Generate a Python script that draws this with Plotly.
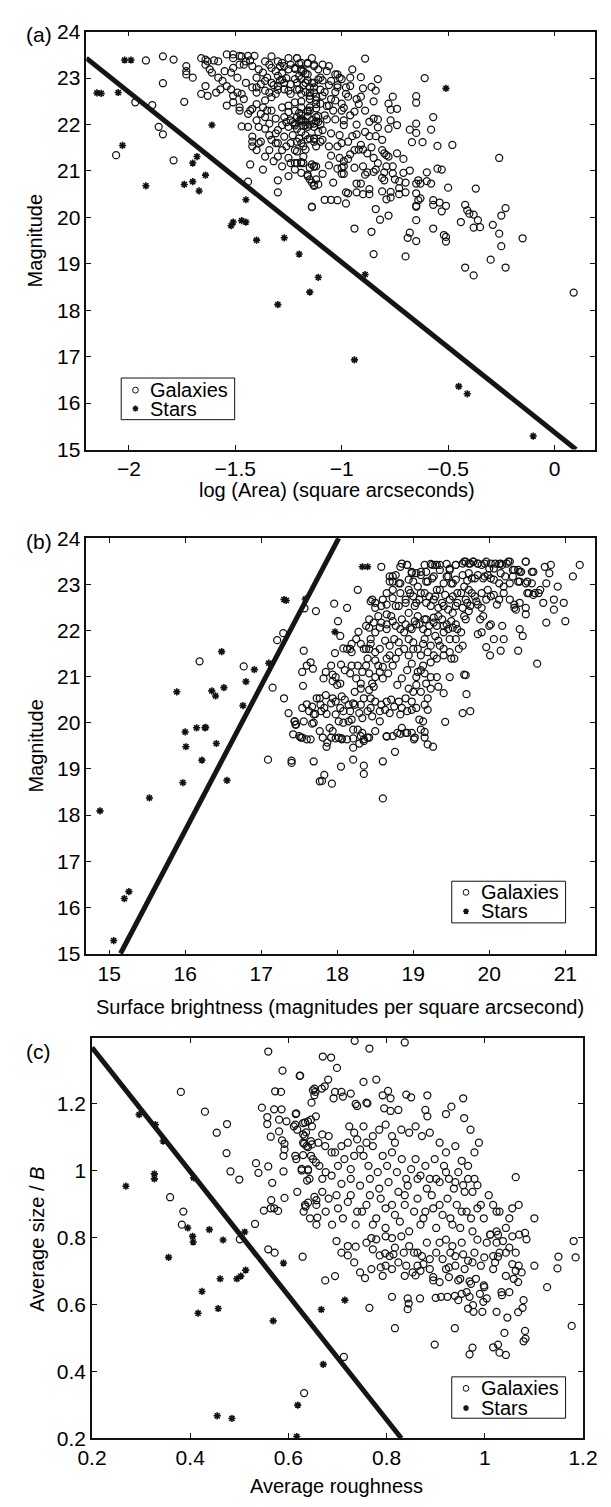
import plotly.graph_objects as go

W, H = 611, 1507
FONT = "Liberation Sans, Arial, Helvetica, sans-serif"

# ---------------- Panel (a): log(Area) vs Magnitude ----------------
gal_a = [
(-1.92,23.38),(-1.84,23.47),(-1.79,23.40),(-1.84,22.89),(-1.97,22.48),(-1.89,22.42),(-1.86,21.95),(-1.84,21.79),(-2.06,21.34),(-1.79,21.23),
(-1.74,22.49),(-1.73,23.08),(-1.73,23.15),(-1.70,23.01),(-1.73,23.26),(-1.66,23.43),(-1.64,23.40),(-1.63,23.36),(-1.60,23.38),(-1.58,23.36),
(-1.64,23.29),(-1.62,23.19),(-1.61,23.12),(-1.64,22.83),(-1.63,22.62),(-1.59,22.69),(-1.66,22.66),(-1.54,22.41),(-1.55,23.15),(-1.54,23.51),
(-1.51,23.51),(-1.48,23.48),(-1.47,23.47),(-1.44,23.48),(-1.41,23.48),(-1.43,23.38),(-1.45,23.36),(-1.48,23.29),(-1.51,23.22),(-1.52,23.12),
(-1.56,22.94),(-1.54,22.83),(-1.52,22.76),(-1.51,22.62),(-1.47,22.66),(-1.46,22.55),(-1.43,22.30),(-1.42,22.34),(-1.48,22.30),(-1.44,22.23),
(-1.44,21.95),(-1.47,21.96),(-1.42,21.74),(-1.42,21.63),(-1.42,21.53),(-1.39,21.60),(-1.38,21.63),(-1.43,21.14),(-1.44,20.77),(-1.39,21.95),
(-1.34,22.02),(-1.35,22.30),(-1.31,21.81),(-1.30,21.88),(-1.34,21.77),(-1.31,21.60),(-1.30,21.60),(-1.27,21.74),(-1.26,21.53),(-1.30,21.31),
(-1.30,20.80),(-1.30,20.54),(-1.25,21.28),(-1.24,21.17),(-1.22,21.17),(-1.21,21.17),(-1.19,21.19),(-1.22,21.03),(-1.18,21.31),(-1.17,21.46),
(-1.14,21.14),(-1.13,21.10),(-1.14,20.23),(-1.16,20.92),(-1.15,20.82),(-1.13,20.68),(-1.12,20.82),(-1.40,22.69),(-1.40,22.80),(-1.37,22.37),
(-1.36,22.52),(-1.33,22.59),(-1.31,22.66),(-1.39,23.19),(-1.37,23.12),(-1.33,23.22),(-1.31,23.15),(-1.35,23.01),(-1.36,22.94),(-1.33,22.90),
(-1.38,22.87),(-1.33,23.47),(-1.30,23.36),(-1.28,23.33),(-1.27,23.26),(-1.25,23.19),(-1.24,23.29),(-1.21,23.43),(-1.19,23.33),(-1.16,23.33),
(-1.13,23.26),(-1.24,22.87),(-1.22,22.98),(-1.21,22.90),(-1.19,22.98),(-1.27,22.76),(-1.25,22.73),(-1.19,22.66),(-1.15,22.62),(-1.13,22.69),
(-1.25,22.41),(-1.22,22.30),(-1.19,22.37),(-1.16,22.30),(-1.27,22.16),(-1.24,22.09),(-1.22,22.02),(-1.21,22.16),(-1.18,22.09),(-1.16,21.95),
(-1.13,22.02),(-1.12,22.16),(-1.25,21.95),(-1.21,21.91),(-1.19,21.84),(-1.15,21.70),(-1.13,21.70),(-1.12,21.53),(-1.19,21.60),(-1.24,21.60),
(-1.23,22.05),(-1.20,22.08),(-1.17,22.05),(-1.14,22.10),(-1.22,21.98),(-1.18,21.97),(-1.15,22.00),(-1.26,22.05),(-1.19,22.12),(-1.16,22.18),
(-1.12,22.07),(-1.10,22.00),(-1.30,23.05),(-1.29,22.95),(-1.27,22.90),(-1.32,22.85),(-1.28,23.10),(-1.26,23.00),(-1.30,22.75),
(-1.21,23.43),(-1.20,23.31),(-1.16,23.31),(-1.13,23.29),(-1.09,23.29),(-1.06,23.26),(-0.89,23.42),(-0.95,23.19),(-0.91,23.02),(-0.96,23.01),
(-0.83,22.98),(-1.00,22.98),(-1.03,23.08),(-1.02,23.08),(-1.01,23.01),(-0.86,22.81),(-0.90,22.78),(-0.84,22.73),(-0.91,22.60),(-0.85,22.50),
(-0.78,22.45),(-0.76,22.60),(-0.77,22.32),(-0.74,22.34),(-0.65,22.61),(-0.65,22.47),(-0.61,23.00),(-0.99,22.36),(-0.94,22.28),(-0.85,22.13),
(-0.83,22.11),(-0.77,22.09),(-0.78,21.91),(-0.74,21.99),(-0.83,21.94),(-0.93,22.00),(-0.99,21.99),(-0.99,22.09),(-1.03,22.11),(-1.07,22.11),
(-1.11,22.18),(-0.57,22.16),(-0.58,21.89),(-0.65,22.02),(-0.68,21.89),(-0.65,21.82),(-0.67,21.62),(-0.62,21.62),(-0.55,21.54),(-0.48,21.56),
(-0.26,21.28),(-0.55,21.05),(-0.53,21.03),(-0.50,20.64),(-0.60,20.97),(-0.68,21.01),(-0.71,20.96),(-0.76,20.95),(-0.80,20.97),(-0.81,20.85),
(-0.80,20.80),(-0.75,20.82),(-0.64,20.80),(-0.63,20.73),(-0.60,20.78),(-0.58,20.73),(-0.65,20.73),(-0.65,20.52),(-0.64,20.37),(-0.63,20.41),
(-0.65,20.23),(-0.65,20.25),(-0.70,20.54),(-0.73,20.63),(-0.73,20.50),(-0.77,20.55),(-0.77,20.43),(-0.79,20.39),(-0.81,20.56),(-0.87,20.61),
(-0.87,20.50),(-0.91,20.73),(-0.93,20.73),(-0.89,20.92),(-0.88,20.97),(-0.84,21.03),(-0.83,21.17),(-0.85,20.98),(-0.80,21.38),(-0.79,21.34),
(-0.74,21.38),(-0.71,21.26),(-0.91,21.56),(-0.92,21.46),(-0.90,21.46),(-0.93,21.79),(-0.95,21.75),(-0.89,21.84),(-0.87,21.75),(-0.84,21.75),
(-0.81,21.67),(-0.86,21.51),(-0.96,21.36),(-0.97,21.26),(-0.99,21.21),(-1.01,21.28),(-0.99,21.10),(-1.02,21.05),(-1.06,21.12),(-1.05,21.33),
(-1.00,21.07),(-0.99,20.94),(-1.00,20.94),(-1.04,20.75),(-1.09,20.94),(-1.08,20.38),(-1.05,20.38),(-1.02,20.37),(-0.98,20.30),(-1.14,20.22),
(-0.97,20.52),(-0.98,20.54),(-0.93,20.54),(-0.90,20.50),(-0.84,20.18),(-0.82,19.95),(-0.78,20.04),(-0.94,19.76),(-0.86,19.69),(-0.85,19.21),
(-0.70,19.16),(-0.68,19.67),(-0.69,19.56),(-0.65,19.49),(-0.65,19.94),(-0.57,20.37),(-0.57,20.27),(-0.57,19.76),(-0.54,20.32),(-0.53,20.13),
(-0.51,20.25),(-0.52,19.62),(-0.51,19.58),(-0.51,19.48),(-0.44,19.90),(-0.42,20.27),(-0.41,20.15),(-0.40,20.08),(-0.38,20.06),(-0.36,19.94),
(-0.38,19.78),(-0.35,19.79),(-0.29,19.84),(-0.26,19.65),(-0.25,20.04),(-0.23,20.20),(-0.25,19.38),(-0.37,20.62),(-0.15,19.55),(-0.30,19.09),
(-0.42,18.92),(-0.23,18.92),(-1.19,21.17),(-1.18,21.17),(-1.21,21.42),(-1.18,21.53),(-1.21,21.63),(-1.16,21.68),(-1.13,21.69),(-1.10,21.63),
(-1.09,21.67),(-1.16,20.89),(-1.14,20.75),(-1.13,20.70),(-1.11,20.71),(-1.15,21.07),(-1.13,21.10),(-1.06,21.53),(-1.02,21.53),(-1.00,21.60),
(-1.22,23.20),(-1.19,23.15),(-1.17,23.10),(-1.20,23.05),(-1.16,22.95),(-1.18,22.85),(-1.14,22.90),(-1.21,22.75),(-1.17,22.70),(-1.13,22.80),
(-1.10,22.75),(-1.08,22.70),(-1.12,22.60),(-1.15,22.55),(-1.19,22.50),(-1.10,22.45),(-1.07,22.40),(-1.05,22.55),(-1.03,22.70),(-1.06,22.85),
(-1.09,22.95),(-1.04,22.30),(-1.12,22.35),(-1.16,22.28),(-1.20,22.25),(-1.08,22.20),(-1.00,22.45),(-0.97,22.60),(-0.98,22.80),(-1.02,22.85),
(-0.38,18.75),(0.09,18.38),
(-1.51,23.43),(-1.46,23.29),(-1.42,23.26),(-1.36,23.36),(-1.34,23.29),(-1.29,23.26),(-1.25,23.43),(-1.22,23.22),(-1.18,23.15),(-1.14,23.43),
(-1.11,23.19),(-1.49,23.01),(-1.45,22.90),(-1.42,22.80),(-1.40,23.01),(-1.36,22.73),(-1.34,22.69),(-1.30,22.83),(-1.28,22.97),(-1.24,22.66),
(-1.20,22.76),(-1.17,22.90),(-1.15,22.80),(-1.11,22.97),(-1.58,23.01),(-1.57,22.76),(-1.49,22.69),(-1.51,22.48),(-1.48,22.37),(-1.40,22.44),
(-1.38,22.23),(-1.33,22.30),(-1.31,22.13),(-1.28,22.37),(-1.25,22.27),(-1.22,22.48),(-1.19,22.20),(-1.15,22.37),(-1.12,22.44),(-1.11,22.06),
(-1.40,22.09),(-1.36,22.16),(-1.36,21.91),(-1.33,21.67),(-1.28,21.99),(-1.23,21.77),(-1.20,21.70),(-1.17,21.77),(-1.13,21.63),(-1.11,21.84),
(-1.40,21.45),(-1.34,21.45),(-1.28,21.45),(-1.22,21.45),(-1.36,21.31),(-1.32,21.21),(-1.28,21.10),(-1.25,20.89),(-1.19,20.96),(-1.12,21.10),
(-1.37,21.03),
(-1.19,23.19),(-1.16,23.08),(-1.13,22.90),(-1.10,23.01),(-1.07,23.15),(-1.05,22.94),(-1.02,22.80),(-0.98,22.66),(-0.96,22.83),(-0.93,22.55),
(-1.15,22.69),(-1.12,22.52),(-1.09,22.62),(-1.06,22.41),(-1.03,22.52),(-1.00,22.30),(-0.96,22.20),(-0.92,22.44),(-0.89,22.30),(-0.87,22.06),
(-1.15,22.30),(-1.19,22.09),(-1.17,21.99),(-1.13,21.95),(-1.09,21.88),(-1.05,21.81),(-1.01,21.77),(-0.97,21.63),(-0.94,21.45),(-0.88,21.38),
(-0.85,21.28),(-0.81,21.45),(-0.78,21.31),(-0.76,21.10),(-0.73,20.78),(-0.70,20.75),(-0.79,21.10),(-0.90,21.10),(-0.94,21.07),
]
star_a = [
(-2.15,22.68),(-2.13,22.67),(-2.05,22.69),(-2.02,23.39),(-1.99,23.39),(-2.03,21.55),(-1.92,20.68),(-1.61,21.99),(-1.68,21.31),(-1.70,21.17),
(-1.64,20.91),(-1.74,20.71),(-1.70,20.77),(-1.67,20.57),(-1.45,20.38),(-1.52,19.82),(-1.51,19.90),(-1.47,19.93),(-1.45,19.90),(-1.40,19.51),
(-1.27,19.56),(-1.20,19.21),(-1.11,18.71),(-1.15,18.39),(-1.30,18.12),(-0.89,18.77),(-0.94,16.93),(-0.45,16.36),(-0.41,16.20),(-0.10,15.29),
(-0.51,22.78),
]
sep_a_x = [-2.2, 0.101]
sep_a_y = [23.43, 15.0]

# ---------------- Panel (b): Surface brightness vs Magnitude ----------------
gal_b = [
(16.19,21.33),(16.77,21.22),(17.15,20.76),(17.21,21.79),(17.29,21.94),(17.57,22.48),(17.72,22.42),(17.56,21.56),(17.54,21.10),(17.60,21.24),
(17.65,21.31),(17.68,21.17),(17.55,20.80),(17.30,20.53),(17.60,20.40),(17.67,20.35),(17.77,20.53),(17.36,20.21),(17.44,20.03),(17.45,19.96),
(17.69,20.18),(17.67,19.98),(17.71,20.19),(17.42,19.75),(17.52,19.68),(17.60,19.64),
(17.09,19.20),(17.40,19.18),(17.40,19.13),(17.69,19.16),(17.77,18.73),
(17.80,18.74),(17.83,18.87),(17.93,18.68),(17.87,19.57),(17.86,19.48),(17.98,19.66),(18.06,19.66),(18.05,19.05),(18.21,19.66),(18.21,19.46),
(18.21,19.20),(18.29,19.55),(18.35,19.60),(18.40,19.68),(18.33,19.78),(18.35,19.07),(18.35,18.89),(18.60,19.16),(18.60,18.36),(18.65,19.70),
(18.76,19.37),(18.83,19.76),(18.92,19.78),(19.01,19.64),(19.15,19.80),(19.19,19.53),(19.26,19.48),
(18.58,23.38),(18.27,22.88),(17.96,22.58),(18.13,22.49),(18.01,22.20),(18.04,21.88),(18.28,21.97),(18.08,21.61),(18.17,21.60),(18.19,21.71),
(17.97,21.51),(18.35,21.60),(18.42,21.60),(17.82,20.96),(17.94,21.04),(18.05,21.26),(17.94,20.90),(18.00,20.82),(17.78,20.39),(17.83,20.32),
(17.86,20.19),
(17.94,20.53),(17.98,20.46),(18.06,20.57),(18.08,20.25),(18.15,20.39),(18.19,20.07),(18.23,20.67),(18.21,20.42),(18.31,20.74),(18.33,21.10),
(18.31,20.39),(18.40,20.25),(18.44,20.53),(18.42,20.71),(18.46,20.85),(18.50,20.99),(18.56,21.10),(18.60,21.21),(18.50,21.35),(18.65,21.39),
(18.69,21.46),(18.77,21.39),(18.40,21.39),(18.27,21.24),(18.17,21.07),(18.44,21.81),(18.50,21.96),(18.56,22.06),(18.42,22.06),(18.65,22.13),
(18.73,22.20),(18.65,22.35),(18.50,22.49),(18.44,22.63),(18.58,22.53),(18.65,22.81),(18.73,22.88),(18.81,23.02),(18.69,23.06),(18.73,23.17),
(18.83,23.38),(18.92,23.42),(18.98,23.24),(19.00,23.06),(19.10,23.27),(19.17,23.27),(19.25,23.42),(19.31,23.42),(19.35,23.31),(19.44,23.17),
(19.50,23.02),(19.56,23.42),(19.67,23.49),(19.73,23.45),(19.79,23.49),(19.85,23.45),(19.94,23.45),(20.00,23.34),(20.08,23.45),(20.15,23.45),
(20.25,23.49),(20.31,23.31),(20.38,23.31),(20.42,23.27),(20.48,23.49),(20.58,23.27),(20.40,23.06),(20.50,23.06),(20.56,23.02),(20.52,22.81),
(20.58,22.77),(20.65,22.81),(20.40,22.60),(20.33,22.56),(20.35,22.45),(20.48,22.49),(20.48,22.35),(20.73,23.38),(20.81,23.42),(20.79,23.24),
(20.75,23.02),(20.90,22.95),(20.85,22.67),(20.98,22.60),(20.85,22.45),(21.00,22.20),(20.75,22.17),(20.71,22.60),(21.10,23.17),(21.19,23.42),
(20.40,22.03),(20.44,21.88),(20.17,22.10),(20.19,21.81),(20.06,21.81),(19.96,21.64),(20.01,21.46),(20.15,21.56),(20.38,21.56),(19.90,21.96),
(19.85,21.92),(20.00,22.10),(20.02,22.13),(19.88,22.24),(19.92,22.31),(20.63,21.28),(19.67,21.04),(19.69,21.03),(19.70,20.62),(19.65,20.21),
(19.75,20.25),(19.42,20.02),(19.48,20.99),(19.40,20.64),(19.33,20.78),(19.31,20.99),(19.23,20.74),(19.19,20.28),(19.15,20.39),(19.10,20.67),
(19.08,20.07),(19.10,19.85),(19.02,19.68),(18.90,19.78),(18.79,19.78),(18.65,19.71),(18.42,19.68),(18.31,19.71),(18.13,19.64),(18.02,19.68),
(17.92,19.68),(17.77,19.82),(17.69,20.00),(17.56,20.03),(17.54,19.68),(17.44,20.03),(17.46,19.96),(17.90,19.89),(18.02,20.03),(18.08,20.00),
(18.15,20.03),(18.27,19.85),(18.33,20.10),(18.46,20.14),(18.56,20.25),(18.58,20.39),(18.65,20.46),(18.71,20.50),(18.81,20.46),(18.85,20.32),
(18.90,20.53),(18.98,20.28),(19.00,20.67),(18.94,20.74),(19.04,20.82),(19.06,21.10),(19.13,21.24),(19.15,21.07),(19.23,21.31),(19.31,21.39),
(19.40,21.46),(19.50,21.39),(19.35,21.67),(19.23,21.67),(19.10,21.46),(19.00,21.60),(18.94,21.81),(18.81,21.74),(18.88,21.96),(18.98,22.03),
(19.04,22.13),(19.13,22.03),(19.15,21.81),(19.29,21.88),(19.40,21.96),(19.48,21.81),(19.56,21.81),(19.65,21.67),(19.58,22.03),(19.52,22.06),
(19.44,22.13),(19.38,22.24),(19.27,22.28),(19.17,22.24),(19.06,22.31),(18.94,22.38),(18.85,22.24),(18.81,22.53),(18.90,22.67),(19.00,22.74),
(19.10,22.81),(19.17,22.60),(19.23,22.53),(19.29,22.74),(19.35,22.88),(19.42,22.77),(19.48,22.67),(19.56,22.53),(19.63,22.81),(19.69,22.67),
(19.75,22.53),(19.81,22.74),(19.90,22.81),(19.98,22.88),(20.06,22.77),(20.13,22.67),(20.19,22.95),(20.27,23.02),(19.94,23.17),(20.02,23.13),
(19.81,23.13),(19.73,23.24),(19.65,23.20),(19.56,23.10),(19.48,23.31),(19.19,23.06),(19.27,23.17),(19.06,22.95),(18.94,22.88),(19.04,22.60),
(19.38,22.60),(19.52,22.38),(19.67,22.31),(19.73,22.42),(19.19,21.96),(19.31,22.10),(19.85,22.56),(19.73,22.88),
(18.85,23.45),(18.92,23.42),(18.98,23.27),(19.15,23.42),(19.23,23.44),(19.29,23.42),(19.35,23.42),(19.44,23.44),(19.48,23.34),(19.56,23.42),
(19.65,23.45),(19.69,23.49),(19.75,23.45),(19.79,23.49),(19.85,23.45),(19.90,23.42),(19.96,23.49),(20.02,23.45),(20.06,23.34),(20.13,23.44),
(20.17,23.42),(20.23,23.45),(20.27,23.49),(20.33,23.31),(20.40,23.27),(20.48,23.49),(20.56,23.27),
(18.69,23.17),(18.73,23.06),(18.77,23.20),(18.83,23.02),(18.94,23.10),(19.04,23.24),(19.10,23.20),(19.17,23.06),(19.25,23.13),(19.31,22.88),
(19.40,23.02),(19.46,23.17),(19.52,23.02),(19.58,22.81),(19.67,22.95),(19.71,23.08),(19.77,23.13),(19.85,23.20),(19.92,23.13),(19.98,23.20),
(20.06,23.10),(20.13,23.02),(20.15,23.24),(20.21,23.17),(20.31,23.17),(20.38,23.06),(20.48,23.02),(20.50,22.81),(20.60,22.81),(20.67,22.88),
(18.46,22.67),(18.50,22.60),(18.60,22.67),(18.65,22.56),(18.73,22.70),(18.77,22.53),(18.83,22.81),(18.90,22.60),(18.96,22.81),(19.02,22.53),
(19.08,22.67),(19.15,22.81),(19.21,22.74),(19.27,22.67),(19.33,22.49),(19.40,22.53),(19.46,22.45),(19.52,22.74),(19.58,22.60),(19.65,22.49),
(19.71,22.60),(19.77,22.81),(19.83,22.63),(19.90,22.49),(19.96,22.67),(20.02,22.74),(20.10,22.56),(20.19,22.81),(20.27,22.67),(20.33,22.49),
(18.38,22.10),(18.42,22.24),(18.48,22.17),(18.54,22.31),(18.58,22.17),(18.65,22.03),(18.71,22.31),(18.77,22.10),(18.83,22.03),(18.90,22.13),
(18.96,22.06),(19.02,22.20),(19.08,22.13),(19.15,22.24),(19.21,22.10),(19.27,22.17),(19.33,22.31),(19.40,22.10),(19.46,22.03),(19.50,22.20),
(19.56,22.13),(19.63,21.96),(19.69,22.24),
(18.13,21.60),(18.19,21.53),(18.25,21.81),(18.31,21.71),(18.38,21.60),(18.44,21.71),(18.50,21.53),(18.56,21.60),(18.63,21.78),(18.69,21.67),
(18.75,21.81),(18.81,21.53),(18.88,21.60),(18.94,21.46),(19.00,21.74),(19.06,21.60),(19.13,21.71),(19.19,21.53),(19.27,21.46),(19.33,21.78),
(19.40,21.60),(19.48,21.53),(19.54,21.39),(19.60,21.60),
(17.85,21.10),(17.92,21.24),(17.98,20.99),(18.04,20.85),(18.10,21.14),(18.19,21.24),(18.25,20.96),(18.31,20.85),(18.38,21.24),(18.42,21.07),
(18.48,20.78),(18.54,21.24),(18.60,20.96),(18.67,21.07),(18.73,21.24),(18.79,20.82),(18.85,20.96),(18.92,21.14),(18.98,21.28),(19.04,20.99),
(19.10,21.14),(19.17,20.85),(19.23,20.99),
(17.54,20.32),(17.63,20.25),(17.73,20.53),(17.79,20.25),(17.85,20.60),(17.92,20.42),(17.98,20.18),(18.04,20.32),(18.10,20.50),(18.17,20.25),
(18.23,20.39),(18.29,20.21),(18.35,20.53),(18.44,20.32),(18.50,20.46),(18.56,20.03),(18.63,20.28),(18.69,20.21),(18.75,20.35),(18.83,20.18),
(18.92,20.25),(18.98,20.46),(19.04,20.32),(19.13,20.03),(19.19,20.53),
(17.50,19.71),(17.65,19.64),(17.81,19.68),(17.94,19.82),(18.06,19.64),(18.21,19.85),(18.35,19.64),(18.50,19.82),(18.73,19.71),(18.85,19.89),
(18.98,19.78),(19.15,19.68),
]
star_b = [
(17.30,22.67),(17.33,22.65),(17.58,22.68),(18.33,23.38),(18.40,23.38),(16.48,21.54),(17.97,21.97),(15.89,20.67),(16.35,20.69),(16.51,20.76),
(16.40,20.58),(16.80,20.89),(16.91,21.15),(17.10,21.29),(16.76,20.37),(16.00,19.80),(16.15,19.89),(16.26,19.89),(16.27,19.90),(16.01,19.48),
(16.41,19.55),(16.22,19.19),(15.97,18.70),(16.55,18.75),(15.53,18.37),(14.88,18.09),(15.20,16.19),(15.26,16.34),(15.06,15.28),
]
sep_b_x = [15.15, 18.02]
sep_b_y = [15.0, 24.0]

# ---------------- Panel (c): Average roughness vs Average size / B ----------------
gal_c = [
(0.381,1.236),(0.430,1.177),(0.454,1.114),(0.475,1.140),(0.474,1.053),(0.482,0.998),(0.500,0.974),(0.359,0.921),(0.386,0.878),(0.383,0.839),
(0.532,0.841),(0.534,1.023),(0.539,0.994),(0.559,1.013),(0.567,0.964),(0.559,1.357),(0.588,1.300),(0.623,1.284),(0.573,1.238),(0.585,1.236),
(0.546,1.189),(0.571,1.184),(0.586,1.184),(0.557,1.161),(0.557,1.140),(0.581,1.153),(0.596,1.148),(0.615,1.170),(0.564,1.102),(0.581,1.118),
(0.587,1.091),(0.592,1.081),(0.592,1.064),(0.590,1.045),(0.614,1.138),(0.616,1.035),(0.590,0.998),(0.627,1.001),(0.640,1.004),(0.638,0.971),
(0.565,0.912),(0.571,0.888),(0.564,0.888),(0.579,0.880),(0.550,0.881),(0.592,0.919),(0.635,0.893),(0.640,0.905),(0.657,0.839),(0.630,1.109),
(0.636,1.115),(0.650,1.241),(0.653,1.226),(0.647,1.204),(0.634,1.145),(0.648,1.133),(0.632,1.081),(0.640,1.071),(0.648,1.079),(0.630,1.047),
(0.646,1.045),(0.656,1.025),(0.657,0.912),
(0.501,0.795),(0.559,0.765),(0.572,0.755),(0.629,0.743),(0.632,0.335),(0.713,0.443),
(0.735,1.389),(0.765,1.366),(0.837,1.384),(0.670,1.342),(0.687,1.339),(0.699,1.308),(0.624,1.285),(0.681,1.273),(0.674,1.253),(0.668,1.246),
(0.753,1.266),(0.779,1.273),(0.653,1.246),(0.655,1.236),(0.695,1.236),(0.708,1.236),(0.711,1.222),(0.692,1.217),(0.727,1.231),(0.740,1.194),
(0.737,1.200),(0.759,1.204),(0.761,1.202),(0.792,1.226),(0.803,1.239),(0.808,1.217),(0.840,1.228),(0.850,1.220),(0.883,1.226),(0.956,1.217),
(0.921,1.170),(0.932,1.192),(0.879,1.182),(0.883,1.163),(0.958,1.158),(0.971,1.123),(0.795,1.187),(0.808,1.179),(0.824,1.182),(0.616,1.172),
(0.611,1.133),(0.630,1.143),(0.640,1.148),(0.646,1.153),(0.656,1.163),(0.633,1.104),(0.630,1.084),(0.646,1.089),(0.661,1.084),(0.669,1.109),
(0.614,1.045),(0.627,1.006),(0.640,1.001),(0.643,0.976),(0.634,0.898),(0.653,0.922),(0.669,0.937),(0.659,0.860),
(0.675,1.074),(0.688,1.055),(0.708,1.074),(0.721,1.084),(0.734,1.045),(0.746,1.064),
(0.724,1.133),(0.734,1.114),(0.753,1.133),(0.772,1.104),(0.759,1.084),(0.785,1.123),
(0.798,1.138),(0.811,1.104),(0.817,1.084),(0.830,1.123),(0.846,1.114),(0.859,1.133),(0.872,1.104),(0.888,1.114),(0.908,1.084),(0.921,1.055),
(0.940,1.074),(0.953,1.030),(0.966,1.015),(0.979,1.055),(0.988,1.084),
(0.669,0.976),(0.688,0.986),(0.708,0.961),(0.727,0.976),(0.746,0.956),(0.766,0.976),(0.785,0.947),(0.804,0.966),(0.824,0.937),(0.843,0.956),
(0.863,0.976),(0.882,0.947),(0.901,0.976),(0.921,0.996),(0.940,0.966),(0.959,0.937),(0.979,0.976),
(0.682,0.917),(0.701,0.888),(0.721,0.907),(0.740,0.878),(0.759,0.898),(0.779,0.858),(0.798,0.888),(0.817,0.868),(0.837,0.898),(0.856,0.878),
(0.875,0.858),(0.895,0.888),(0.914,0.868),(0.934,0.839),(0.953,0.878),(0.972,0.858),(0.992,0.898),(1.017,0.898),(1.030,0.878),(1.050,0.858),
(1.063,0.981),(1.069,0.898),(1.101,0.858),(1.011,0.809),(1.024,0.819),
(0.698,0.790),(0.721,0.775),(0.737,0.773),(0.721,0.747),(0.675,0.672),(0.695,0.685),(0.756,0.679),(0.765,0.590),(0.769,0.706),(0.788,0.711),
(0.798,0.716),(0.811,0.706),(0.786,0.747),(0.797,0.753),(0.806,0.745),(0.814,0.750),(0.759,0.785),(0.769,0.799),(0.779,0.795),(0.798,0.804),
(0.811,0.799),(0.830,0.804),(0.811,0.623),(0.817,0.529),(0.843,0.618),(0.845,0.603),(0.843,0.586),(0.853,0.696),(0.859,0.687),(0.869,0.701),
(0.875,0.721),(0.888,0.736),(0.835,0.755),(0.846,0.775),(0.863,0.755),(0.872,0.745),(0.840,0.716),(0.868,0.618),(0.898,0.480),(0.900,0.620),
(0.911,0.623),(0.924,0.623),(0.939,0.626),(0.895,0.682),(0.895,0.672),(0.927,0.682),(0.946,0.672),(0.950,0.677),(0.940,0.716),(0.927,0.711),
(0.914,0.736),(0.908,0.785),(0.921,0.794),(0.934,0.775),(0.940,0.745),(0.939,0.529),(0.946,0.613),(0.953,0.632),(0.963,0.637),(0.969,0.623),
(0.976,0.598),(0.977,0.578),(0.995,0.578),(0.997,0.608),(0.990,0.632),(0.998,0.657),(0.969,0.669),(0.982,0.677),(0.972,0.662),(0.966,0.731),
(0.956,0.750),(0.975,0.726),(0.969,0.451),(0.975,0.471),(0.999,0.652),(0.999,0.741),(1.017,0.745),(1.027,0.743),(1.021,0.726),(1.024,0.785),
(1.037,0.790),(1.050,0.770),(1.043,0.755),(1.056,0.721),(1.063,0.701),(1.059,0.677),(1.068,0.667),(1.075,0.696),(1.069,0.716),(1.034,0.637),
(1.035,0.628),(1.046,0.561),(1.040,0.515),(1.017,0.472),(1.027,0.480),(1.030,0.456),(1.043,0.449),(1.079,0.613),(1.077,0.590),(1.068,0.577),
(1.082,0.521),(1.079,0.490),(1.083,0.498),(1.101,0.716),(1.127,0.652),(1.150,0.743),(1.148,0.708),(1.181,0.790),(1.185,0.741),(1.177,0.536),
(1.082,0.814),(1.085,0.795),(1.070,0.809),(1.056,0.804),(1.027,0.809),(1.011,0.809),
(0.618,1.123),(0.637,1.074),(0.650,1.035),(0.663,1.015),(0.676,0.996),(0.682,1.104),(0.695,1.055),(0.701,1.015),(0.714,1.035),(0.727,1.005),
(0.740,1.094),(0.753,1.045),(0.763,1.015),(0.772,1.074),(0.782,0.996),(0.792,1.045),(0.801,1.015),(0.811,1.055),(0.821,0.996),(0.831,1.035),
(0.840,0.976),(0.850,1.005),(0.859,1.035),(0.869,0.986),(0.879,1.015),(0.888,0.976),(0.898,1.035),(0.908,0.966),(0.917,1.015),(0.927,0.976),
(0.937,0.947),(0.946,0.996),(0.956,0.957),(0.966,0.976),(0.975,0.937),(0.985,0.957),
(0.618,0.937),(0.631,0.878),(0.644,0.858),(0.657,0.898),(0.676,0.878),(0.689,0.839),(0.698,0.927),(0.711,0.858),(0.727,0.927),(0.737,0.839),
(0.750,0.878),(0.766,0.927),(0.772,0.839),(0.788,0.917),(0.798,0.829),(0.811,0.898),(0.827,0.848),(0.837,0.927),(0.846,0.819),(0.863,0.917),
(0.869,0.839),(0.879,0.878),(0.892,0.927),(0.901,0.829),(0.908,0.898),(0.924,0.917),(0.930,0.858),(0.943,0.898),(0.950,0.829),(0.963,0.878),
(0.975,0.819),(0.985,0.888),(0.998,0.858),(1.008,0.927),(1.024,0.878),(1.043,0.829),(1.056,0.888),
(0.708,0.755),(0.734,0.726),(0.746,0.696),(0.772,0.765),(0.792,0.686),(0.817,0.770),(0.824,0.726),(0.837,0.686),(0.856,0.755),(0.863,0.716),
(0.882,0.785),(0.888,0.706),(0.901,0.755),(0.908,0.667),(0.921,0.706),(0.930,0.755),(0.953,0.785),(0.959,0.706),(0.979,0.755),(0.992,0.716),
(0.985,0.794),(1.004,0.785),(1.017,0.706),(1.030,0.755),(1.043,0.686),(1.063,0.755),(1.050,0.637),(1.004,0.618),(0.966,0.588),(1.024,0.578),
]
star_c = [
(0.296,1.168),(0.329,1.138),(0.345,1.089),(0.269,0.954),(0.327,0.991),(0.327,0.976),(0.407,0.979),(0.395,0.829),(0.405,0.804),(0.406,0.787),
(0.439,0.824),(0.511,0.817),(0.467,0.793),(0.356,0.741),(0.495,0.677),(0.503,0.685),(0.513,0.703),(0.461,0.677),(0.424,0.639),(0.416,0.574),
(0.457,0.588),(0.569,0.551),(0.590,0.724),(0.455,0.267),(0.485,0.259),(0.619,0.299),(0.617,0.205),(0.667,0.585),(0.715,0.613),(0.671,0.421),
]
sep_c_x = [0.2, 0.830]
sep_c_y = [1.369, 0.2]

# ---------------- figure ----------------
fig = go.Figure()

def add_panel(gal, star, sx, sy, xa, ya):
    fig.add_trace(go.Scatter(
        x=[p[0] for p in gal], y=[p[1] for p in gal], mode="markers",
        marker=dict(symbol="circle-open", size=7, color="#111111", line=dict(width=1.25)),
        xaxis=xa, yaxis=ya, showlegend=False, hoverinfo="skip"))
    fig.add_trace(go.Scatter(
        x=[p[0] for p in star], y=[p[1] for p in star], mode="markers",
        marker=dict(symbol="asterisk-open", size=6, color="#111111", line=dict(width=1.6)),
        xaxis=xa, yaxis=ya, showlegend=False, hoverinfo="skip"))
    fig.add_trace(go.Scatter(
        x=sx, y=sy, mode="lines", line=dict(color="#151515", width=5),
        xaxis=xa, yaxis=ya, showlegend=False, hoverinfo="skip"))

add_panel(gal_a, star_a, sep_a_x, sep_a_y, "x", "y")
add_panel(gal_b, star_b, sep_b_x, sep_b_y, "x2", "y2")
add_panel(gal_c, star_c, sep_c_x, sep_c_y, "x3", "y3")

def px(v):
    return v / W

def py(v):
    return 1 - v / H

axis_style = dict(showline=True, linecolor="#111111", linewidth=1.5, mirror="ticks",
                  ticks="inside", ticklen=5, tickwidth=1, tickcolor="#111111",
                  showgrid=False, zeroline=False, fixedrange=True, ticklabeloverflow="allow",
                  tickfont=dict(size=21, family=FONT, color="black"))

fig.update_layout(
    width=W, height=H, autosize=False,
    margin=dict(l=0, r=0, t=0, b=0),
    paper_bgcolor="white", plot_bgcolor="white",
    font=dict(family=FONT, color="black"),
    xaxis=dict(axis_style, domain=[px(75), px(609.9)], range=[-2.2, 0.19], anchor="y",
               tickvals=[-2, -1.5, -1, -0.5, 0]),
    yaxis=dict(axis_style, domain=[py(444.3), py(20)], range=[15, 24], anchor="x",
               tickvals=list(range(15, 25))),
    xaxis2=dict(axis_style, domain=[px(75), px(609.9)], range=[14.7, 21.39], anchor="y2",
                tickvals=list(range(15, 22))),
    yaxis2=dict(axis_style, domain=[py(957), py(534.3)], range=[14.98, 24], anchor="x2",
                tickvals=list(range(15, 25))),
    xaxis3=dict(axis_style, domain=[px(81), px(597.3)], range=[0.2, 1.2], anchor="y3",
                tickvals=[0.2, 0.4, 0.6, 0.8, 1.0, 1.2], ticktext=["0.2", "0.4", "0.6", "0.8", "1", "1.2"]),
    yaxis3=dict(axis_style, domain=[py(1448.3), py(1041.7)], range=[0.2, 1.398], anchor="x3",
                tickvals=[0.2, 0.4, 0.6, 0.8, 1.0, 1.2], ticktext=["0.2", "0.4", "0.6", "0.8", "1", "1.2"]),
)

def ann(text, x, y, size=21, angle=0, xanchor="center"):
    return dict(text=text, x=px(x), y=py(y), xref="paper", yref="paper", showarrow=False,
                font=dict(size=size, family=FONT, color="black"), textangle=angle,
                xanchor=xanchor, yanchor="middle")

annotations = [
    ann("(a)", 9, 23, xanchor="left"),
    ann("(b)", 9, 538, xanchor="left"),
    ann("(c)", 9, 1056, xanchor="left"),
    ann("log (Area) (square arcseconds)", 339, 485, size=20),
    ann("Surface brightness (magnitudes per square arcsecond)", 342, 1010, size=20),
    ann("Average roughness", 338, 1497, size=20),
    ann("Magnitude", 22, 232, size=20, angle=-90),
    ann("Magnitude", 22, 745, size=20, angle=-90),
    ann("Average size / <i>B</i>", 23, 1246, size=20, angle=-90),
]

shapes = []

def legend(x0, x1, y0, y1, symx, row1, row2, textx):
    shapes.append(dict(type="rect", xref="paper", yref="paper", x0=px(x0), x1=px(x1), y0=py(y1), y1=py(y0),
                       line=dict(color="#111111", width=1), fillcolor="white", layer="above"))
    r = 3.0
    shapes.append(dict(type="circle", xref="paper", yref="paper", x0=px(symx - r), x1=px(symx + r),
                       y0=py(row1 + r), y1=py(row1 - r), line=dict(color="#111111", width=1), layer="above"))
    s = 3.0
    d = s * 0.72
    path = (f"M {px(symx - s)} {py(row2)} L {px(symx + s)} {py(row2)} "
            f"M {px(symx)} {py(row2 - s)} L {px(symx)} {py(row2 + s)} "
            f"M {px(symx - d)} {py(row2 - d)} L {px(symx + d)} {py(row2 + d)} "
            f"M {px(symx - d)} {py(row2 + d)} L {px(symx + d)} {py(row2 - d)}")
    shapes.append(dict(type="path", xref="paper", yref="paper", path=path,
                       line=dict(color="#111111", width=1.5), layer="above"))
    annotations.append(ann("Galaxies", textx, row1, size=20, xanchor="left"))
    annotations.append(ann("Stars", textx, row2, size=20, xanchor="left"))

legend(111.7, 231, 371.7, 414, 126.7, 384, 402.7, 140)
legend(459.3, 579, 882.7, 925, 474.3, 894, 913.3, 487.5)
legend(459.3, 579, 1386, 1428, 474.3, 1397.7, 1417.7, 487.5)

fig.update_layout(annotations=annotations, shapes=shapes)

# remove the browser's default page margin so the 611x1507 figure fills the window exactly
fig.write_html("out.html", config={"displayModeBar": False},
               post_script="document.body.style.margin='0';document.body.style.overflow='hidden';")
